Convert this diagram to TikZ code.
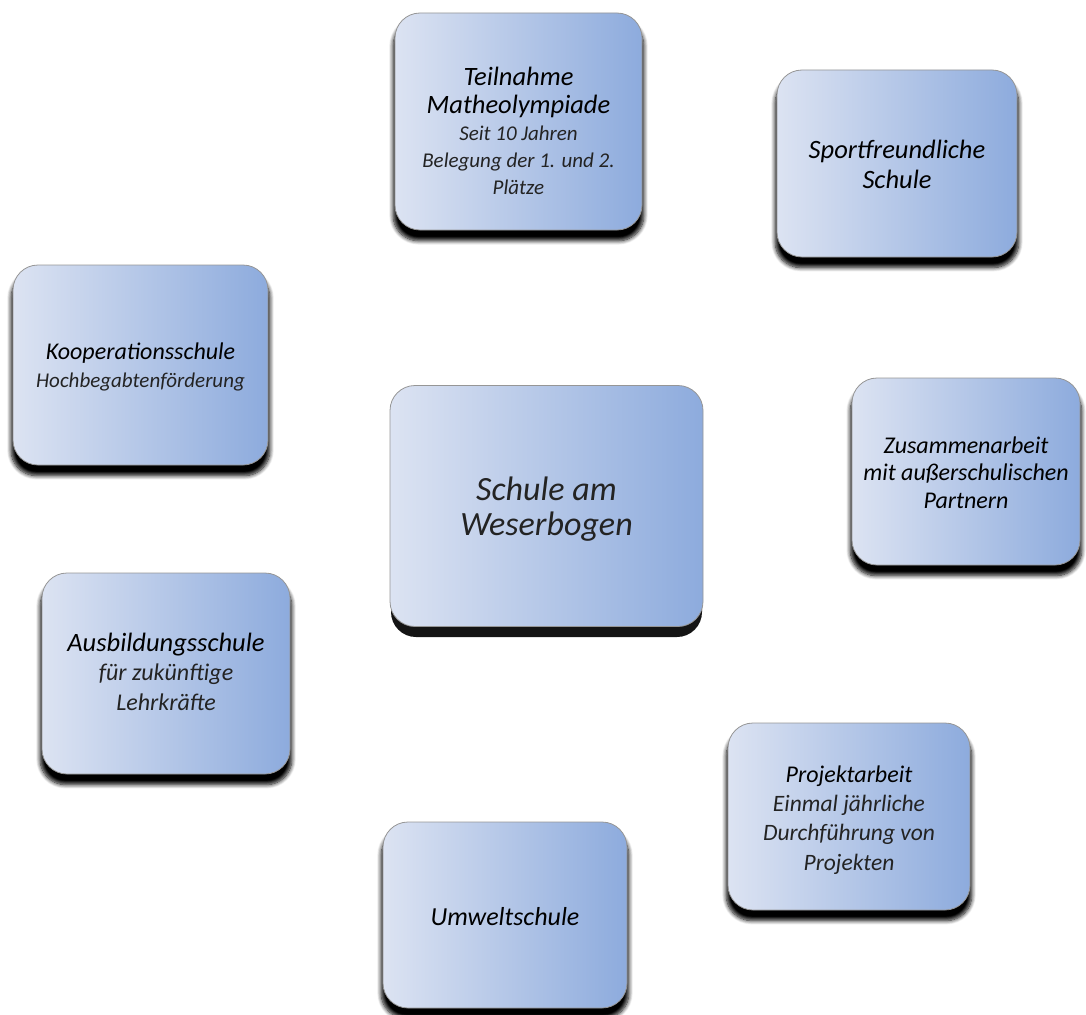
\documentclass[tikz,border=0pt]{standalone}
\usepackage{fontspec}
\setmainfont{Carlito}
\usetikzlibrary{shadows.blur}
\definecolor{boxL}{RGB}{220,227,242}
\definecolor{boxR}{RGB}{141,171,221}
\definecolor{boxEdge}{RGB}{150,150,150}
\definecolor{subtxt}{RGB}{35,35,35}
\tikzset{
  tile/.style={rectangle, rounded corners=25pt, draw=boxEdge, line width=0.8pt,
    left color=boxL, right color=boxR, inner sep=0pt},
  softshadow/.style={blur shadow={shadow xshift=0pt, shadow yshift=-9pt,
    shadow blur steps=8, shadow blur radius=4pt, shadow opacity=100, shadow scale=1.015}},
  label/.style={inner sep=0pt, align=center, text=black,
    font=\itshape\fontsize{26.5}{28}\selectfont},
}
\newcommand{\subl}[2][21]{{\fontsize{#1}{26}\selectfont\color{subtxt}#2}}
\begin{document}
\begin{tikzpicture}[x=1pt,y=-1pt]
\useasboundingbox (0,0) rectangle (1086,1014);
% centre
\fill[black!92, rounded corners=25pt] (391,396) rectangle (702,637);
\node[tile, minimum width=313pt, minimum height=241pt] (centre) at (546.5,506) {};
\node[label, font=\itshape\fontsize{34}{35}\selectfont, text=subtxt] (centreT)
  at ([yshift=-3pt]centre.center) {Schule am\\Weserbogen};
% satellites
\node[tile, softshadow, minimum width=247pt, minimum height=217pt] (olymp) at (518.5,121.5) {};
\node[label] (olympT) at ([yshift=-9pt]olymp.center)
  {Teilnahme\\Matheolympiade\\[-1pt]\subl{Seit 10 Jahren}\\[-1pt]\subl{Belegung der 1. und 2.}\\[-1pt]\subl{Plätze}};
\node[tile, softshadow, minimum width=240pt, minimum height=187pt] (sport) at (897,163.5) {};
\node[label, font=\itshape\fontsize{26.5}{30}\selectfont] (sportT) at ([yshift=-1pt]sport.center)
  {Sportfreundliche\\Schule};
\node[tile, softshadow, minimum width=255pt, minimum height=200pt] (koop) at (140.5,365) {};
\node[label, font=\itshape\fontsize{24}{28}\selectfont] (koopT) at ([yshift=-2pt]koop.center)
  {Kooperationsschule\\[0pt]\subl{Hochbegabtenförderung}};
\node[tile, softshadow, minimum width=228pt, minimum height=187pt] (zusam) at (966,471.5) {};
\node[label, font=\itshape\fontsize{24}{27.5}\selectfont] (zusamT) at ([yshift=-1pt]zusam.center)
  {Zusammenarbeit\\mit außerschulischen\\Partnern};
\node[tile, softshadow, minimum width=248pt, minimum height=201pt] (ausb) at (166,673.5) {};
\node[label] (ausbT) at ([yshift=2pt]ausb.center)
  {Ausbildungsschule\\[1pt]\subl[24]{für zukünftige}\\[2pt]\subl[24]{Lehrkräfte}};
\node[tile, softshadow, minimum width=242pt, minimum height=187pt] (proj) at (849,816.5) {};
\node[label, font=\itshape\fontsize{24}{28}\selectfont] (projT) at ([yshift=-4pt]proj.center)
  {Projektarbeit\\[1pt]\subl[23.5]{Einmal jährliche}\\[1pt]\subl[23.5]{Durchführung von}\\[2pt]\subl[23.5]{Projekten}};
\node[tile, softshadow, minimum width=244pt, minimum height=186pt] (umwelt) at (505,915) {};
\node[label, font=\itshape\fontsize{26}{28}\selectfont] (umweltT) at ([yshift=-2pt]umwelt.center)
  {Umweltschule};
\end{tikzpicture}
\end{document}
